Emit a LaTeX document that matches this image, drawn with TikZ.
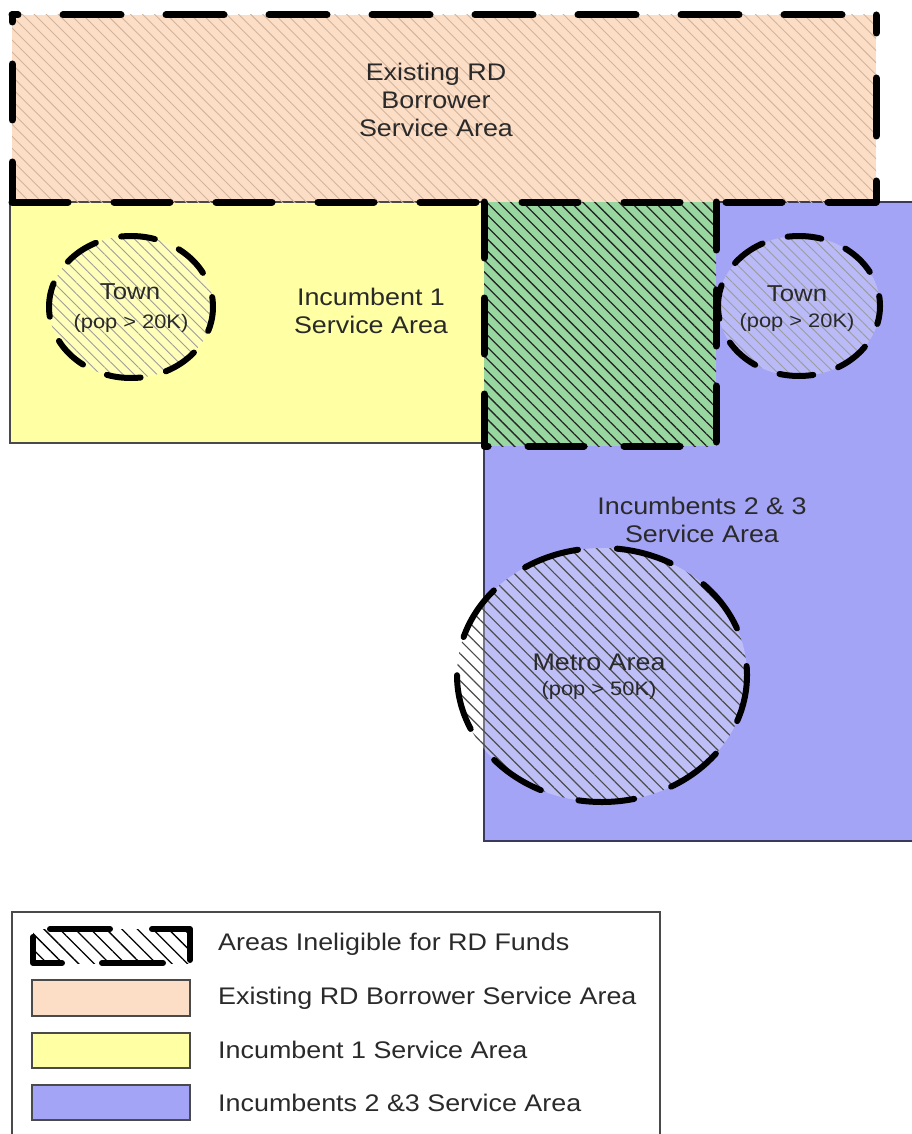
\documentclass[tikz,border=0pt]{standalone}
\usepackage{fontspec}
\setmainfont{Liberation Sans}[FakeStretch=1.12]
\usetikzlibrary{patterns.meta}

\definecolor{peach}{HTML}{FCDDC6}
\definecolor{lemon}{HTML}{FFFFA3}
\definecolor{lavender}{HTML}{A4A4F6}
\definecolor{mint}{HTML}{98D8A0}
\definecolor{peachline}{HTML}{D2B49C}
\definecolor{townline}{HTML}{9C9C9C}
\definecolor{edgegray}{HTML}{4A4A4A}
\definecolor{edgeblue}{HTML}{3A3A5C}
\definecolor{inkgray}{HTML}{2A2A2A}

\tikzset{
  areaedge/.style={line width=1.6pt},
  ineligible/.style={line width=7pt, line cap=round, line join=round, dash pattern=on 58pt off 45pt},
  townedge/.style={line width=6pt, line cap=round, dash pattern=on 34pt off 26.1pt, dash phase=24pt},
  metroedge/.style={line width=6pt, line cap=round, dash pattern=on 56pt off 39pt, dash phase=47pt},
  keyedge/.style={line width=6pt, line cap=round, line join=round},
  lighthatch/.style={pattern={Lines[angle=-45, distance=8.5pt, line width=0.9pt]}, pattern color=peachline},
  townhatch/.style={pattern={Lines[angle=-45, distance=8pt, line width=0.9pt]}, pattern color=townline},
  darkhatch/.style={pattern={Lines[angle=-45, distance=8.5pt, line width=1.3pt]}, pattern color=black!85},
  metrohatch/.style={pattern={Lines[angle=-45, distance=9.5pt, line width=1.2pt]}, pattern color=black!70},
  keyhatch/.style={pattern={Lines[angle=-45, distance=11pt, line width=1.3pt]}, pattern color=black},
  arealabel/.style={text=inkgray, align=center, inner sep=0pt, font=\fontsize{24}{28}\selectfont},
  townlabel/.style={text=inkgray, inner sep=0pt, font=\fontsize{23}{26}\selectfont},
  poplabel/.style={text=inkgray, inner sep=0pt, font=\fontsize{19.5}{23}\selectfont},
  keylabel/.style={text=inkgray, anchor=west, inner sep=0pt, font=\fontsize{24}{28}\selectfont},
  keybox/.style={draw=edgegray, line width=1.5pt}
}

\begin{document}
\begin{tikzpicture}[x=1pt, y=-1pt]
\useasboundingbox (0,0) rectangle (912,1134);
\begin{scope}
\clip (0,0) rectangle (912,1134);

% service area fills
\fill[lavender] (484,202) rectangle (930,841);
\fill[lemon] (10,202) rectangle (484,443);
\fill[mint] (484,202) rectangle (716,446);
\fill[peach] (12,15) rectangle (876,202);

% service area outlines
\draw[edgegray, areaedge] (484,443) -- (10,443) -- (10,202) -- (484,202);
\draw[edgeblue, areaedge] (716,202) -- (930,202);
\draw[edgeblue, areaedge] (484,446) -- (484,841) -- (930,841);

% hatching of the ineligible areas
\fill[lighthatch] (12,15) rectangle (876,202);
\fill[darkhatch] (484,202) rectangle (716,446);

% towns
\fill[white, opacity=0.25] (131,307) ellipse [x radius=82pt, y radius=71pt];
\fill[townhatch] (131,307) ellipse [x radius=82pt, y radius=71pt];
\fill[white, opacity=0.25] (799,306) ellipse [x radius=81pt, y radius=70pt];
\fill[townhatch] (799,306) ellipse [x radius=81pt, y radius=70pt];

% metro area
\fill[white, opacity=0.3] (602,675) ellipse [x radius=145pt, y radius=127pt];
\fill[metrohatch] (602,675) ellipse [x radius=145pt, y radius=127pt];

% dashed borders of the ineligible areas
\draw[ineligible, dash phase=52pt] (12,15) -- (876,15);
\draw[ineligible, dash phase=40pt] (876,15) -- (876,202);
\draw[ineligible, dash pattern=on 56pt off 46pt, dash phase=8pt] (876,202) -- (12,202);
\draw[ineligible, dash pattern=on 56pt off 42pt, dash phase=16pt] (12,202) -- (12,15);
\draw[ineligible, dash pattern=on 56pt off 40pt] (484,202) -- (484,446) -- (716,446) -- (716,202);

\draw[townedge] (131,307) ellipse [x radius=82pt, y radius=71pt];
\draw[townedge] (799,306) ellipse [x radius=81pt, y radius=70pt];
\draw[metroedge] (602,675) ellipse [x radius=145pt, y radius=127pt];
\end{scope}

% area labels
\node[arealabel] (borrower) at (436,100) {Existing RD\\Borrower\\Service Area};
\node[arealabel] (inc1) at (371,311) {Incumbent 1\\Service Area};
\node[arealabel] (inc23) at (702,520) {Incumbents 2 \& 3\\Service Area};
\node[townlabel] (townA) at (130,292) {Town};
\node[poplabel] (popA) at (131,323) {(pop > 20K)};
\node[townlabel] (townB) at (797,294) {Town};
\node[poplabel] (popB) at (797,322) {(pop > 20K)};
\node[arealabel] (metro) at (599,662) {Metro Area};
\node[poplabel] (popM) at (599,690) {(pop > 50K)};

% legend
\draw[keybox] (12,1140) -- (12,912) -- (660,912) -- (660,1140);
\fill[keyhatch] (33,929) rectangle (190,963);
\draw[keyedge] (33,937) -- (33,963) -- (62,963);
\draw[keyedge] (50,929) -- (110,929);
\draw[keyedge] (152,929) -- (190,929) -- (190,960);
\draw[keyedge] (102,963) -- (163,963);
\fill[peach, keybox] (32,980) rectangle (190,1016);
\fill[lemon, keybox] (32,1033) rectangle (190,1068);
\fill[lavender, keybox] (32,1085) rectangle (190,1120);

\node[keylabel] (keyA) at (218,944) {Areas Ineligible for RD Funds};
\node[keylabel] (keyB) at (218,998) {Existing RD Borrower Service Area};
\node[keylabel] (keyC) at (218,1050) {Incumbent 1 Service Area};
\node[keylabel] (keyD) at (218,1103) {Incumbents 2 \&3 Service Area};
\end{tikzpicture}
\end{document}
